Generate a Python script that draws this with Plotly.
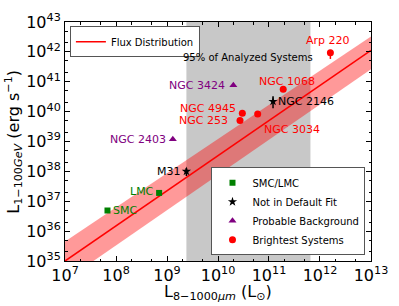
import plotly.graph_objects as go
import numpy as np

# ---------------- data ----------------
smc_names = ["SMC", "LMC"]
smc_x = [6.8e7, 7.0e8]
smc_y = [4.9e36, 1.9e37]
smc_err = [0.06e37, 0.1e37]

nd_names = ["M31", "NGC 2146"]
nd_x = [2.4e9, 1.2e11]
nd_y = [1.0e38, 2.2e40]
nd_err_plus = [0.3e38, 1.1e40]
nd_err_minus = [0.3e38, 0.9e40]

bg_names = ["NGC 2403", "NGC 3424"]
bg_x = [1.3e9, 2.0e10]
bg_y = [1.2e39, 7.6e40]

br_names = ["NGC 4945", "NGC 253", "NGC 3034", "NGC 1068", "Arp 220"]
br_x = [3.0e10, 2.7e10, 6.0e10, 1.9e11, 1.6e12]
br_y = [8.9e39, 5.0e39, 8.3e39, 5.6e40, 9.3e41]
br_err_plus = [0.4e39, 0.4e39, 0.4e39, 0.3e40, 0.3e41]
br_err_minus = [0.4e39, 0.4e39, 0.4e39, 0.3e40, 3.5e41]

fit_x = [1e7, 1e13]
fit_y = [1.0e35, 1.12e42]
band_upper = [4.5e35, 3.3e42]
band_lower = [2.2e34, 2.6e41]

systems_range = [2.4e9, 6.5e11]

x_tickvals = [1e7, 1e8, 1e9, 1e10, 1e11, 1e12, 1e13]
x_ticktext = ["10<sup>%d</sup>" % e for e in range(7, 14)]
y_tickvals = [1e35, 1e36, 1e37, 1e38, 1e39, 1e40, 1e41, 1e42, 1e43]
y_ticktext = ["10<sup>%d</sup>" % e for e in range(35, 44)]

GREEN = "#008000"
PURPLE = "#800080"
RED = "#ff0000"
FONT = "DejaVu Sans"

fig = go.Figure()

# band (fill between upper and lower)
fig.add_trace(go.Scatter(x=fit_x, y=band_lower, mode="lines", line=dict(width=0),
                         showlegend=False, hoverinfo="skip"))
fig.add_trace(go.Scatter(x=fit_x, y=band_upper, mode="lines", line=dict(width=0),
                         fill="tonexty", fillcolor="rgba(255,0,0,0.4)",
                         showlegend=False, hoverinfo="skip"))
fig.add_trace(go.Scatter(x=fit_x, y=fit_y, mode="lines", line=dict(color=RED, width=1.6),
                         name="Flux Distribution", legend="legend"))

fig.add_trace(go.Scatter(x=smc_x, y=smc_y, mode="markers", name="SMC/LMC", legend="legend2",
                         marker=dict(symbol="square", size=6, color=GREEN),
                         error_y=dict(type="data", array=smc_err, color=GREEN, thickness=1.5, width=0)))
fig.add_trace(go.Scatter(x=nd_x, y=nd_y, mode="markers", name="Not in Default Fit", legend="legend2",
                         marker=dict(symbol="star", size=7, color="black"),
                         error_y=dict(type="data", array=nd_err_plus, arrayminus=nd_err_minus,
                                      color="black", thickness=1.5, width=0)))
fig.add_trace(go.Scatter(x=bg_x, y=bg_y, mode="markers", name="Probable Background", legend="legend2",
                         marker=dict(symbol="triangle-up", size=7, color=PURPLE)))
fig.add_trace(go.Scatter(x=br_x, y=br_y, mode="markers", name="Brightest Systems", legend="legend2",
                         marker=dict(symbol="circle", size=7, color=RED),
                         error_y=dict(type="data", array=br_err_plus, arrayminus=br_err_minus,
                                      color=RED, thickness=1.5, width=0)))

# grey region
fig.add_shape(type="rect", xref="x", yref="paper", x0=systems_range[0], x1=systems_range[1],
              y0=0, y1=1, fillcolor="#c8c8c8", line=dict(width=0), layer="below")

fig.add_annotation(x=np.log10(np.sqrt(systems_range[0] * systems_range[1])), y=np.log10(6.5e41),
                   text="95% of Analyzed Systems", showarrow=False,
                   font=dict(family=FONT, size=10, color="black"))

# point labels
label_style = {
    "SMC": ("left", "middle", 4, 0),
    "LMC": ("right", "middle", -3, 1),
    "M31": ("right", "middle", -3, 0),
    "NGC 2146": ("left", "middle", 3, 0),
    "NGC 2403": ("right", "middle", -5, 0),
    "NGC 3424": ("right", "middle", -6, 0),
    "NGC 4945": ("right", "middle", -4, 5),
    "NGC 253": ("right", "middle", -10, 0),
    "NGC 3034": ("left", "middle", 4, -15),
    "NGC 1068": ("center", "middle", 4, 8),
    "Arp 220": ("center", "middle", -2, 12),
}
for names, xs, ys, col in [(smc_names, smc_x, smc_y, GREEN), (nd_names, nd_x, nd_y, "black"),
                           (bg_names, bg_x, bg_y, PURPLE), (br_names, br_x, br_y, RED)]:
    for n, xv, yv in zip(names, xs, ys):
        xa, ya, xs_, ys_ = label_style[n]
        fig.add_annotation(x=np.log10(xv), y=np.log10(yv), text=n, showarrow=False,
                           xanchor=xa, yanchor=ya, xshift=xs_, yshift=ys_,
                           font=dict(family=FONT, size=11, color=col))

# axis titles
fig.add_annotation(x=0.5, y=-0.132, xref="paper", yref="paper", showarrow=False,
                   xanchor="center", yanchor="middle",
                   text="L<sub>8−1000<i>μm</i></sub> (L<sub>⊙</sub>)",
                   font=dict(family=FONT, size=16, color="black"))
fig.add_annotation(x=-0.169, y=0.5, xref="paper", yref="paper", showarrow=False,
                   xanchor="center", yanchor="middle", textangle=-90,
                   text="L<sub>1−100<i>GeV</i></sub> (erg s<sup>−1</sup>)",
                   font=dict(family=FONT, size=16, color="black"))

axis_common = dict(showline=True, linecolor="black", linewidth=1, mirror="ticks",
                   ticks="inside", ticklen=5, tickcolor="black", showgrid=False, zeroline=False,
                   tickfont=dict(family=FONT, size=16, color="black"))

fig.update_xaxes(type="log", range=[6.9995, 13.0005], tickvals=x_tickvals, ticktext=x_ticktext,
                 minor=dict(ticks="inside", ticklen=2.5, tickcolor="black", showgrid=False),
                 **axis_common)
fig.update_yaxes(type="log", range=[34.9995, 43.0005], tickvals=y_tickvals, ticktext=y_ticktext,
                 minor=dict(ticks="inside", ticklen=2.5, tickcolor="black", showgrid=False),
                 **axis_common)

fig.update_layout(
    width=399, height=306,
    margin=dict(l=65, r=21, t=11, b=45),
    plot_bgcolor="white", paper_bgcolor="white",
    font=dict(family=FONT, color="black"),
    legend=dict(x=0.016, y=0.982, xanchor="left", yanchor="top", bgcolor="white",
                bordercolor="#555", borderwidth=1, font=dict(family=FONT, size=10),
                itemwidth=30),
    legend2=dict(x=0.982, y=0.024, xanchor="right", yanchor="bottom", bgcolor="white",
                 bordercolor="#555", borderwidth=1, font=dict(family=FONT, size=10),
                 itemwidth=30, tracegroupgap=0),
)

fig.write_html("out.html", config={"displayModeBar": False},
               post_script="document.body.style.margin='0';document.body.style.padding='0';")
